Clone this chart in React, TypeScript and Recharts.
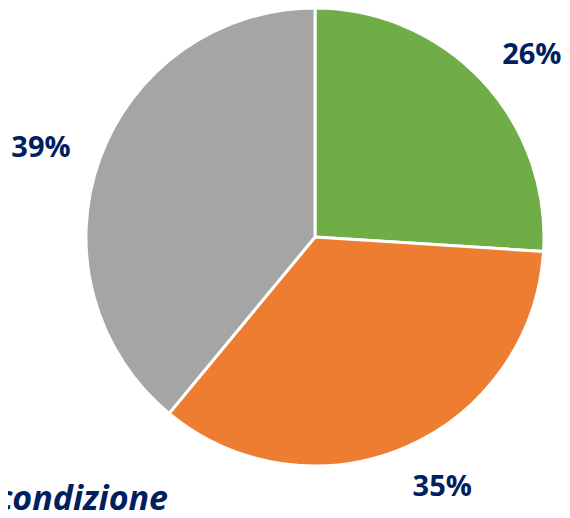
import { PieChart, Pie, Cell } from "recharts";

const categories = ["A", "B", "C"];
const values = [26, 35, 39];
const labels = ["26%", "35%", "39%"];
const COLORS = ["#70AD47", "#ED7D31", "#A5A5A5"];

const data = categories.map((name, i) => ({ name, value: values[i], label: labels[i] }));

const RADIAN = Math.PI / 180;

const renderLabel = (props: any) => {
  const { cx, cy, midAngle, outerRadius, index } = props;
  const r = outerRadius + 41;
  const cos = Math.cos(-midAngle * RADIAN);
  const x = cx + r * cos + (cos >= 0 ? 20 : -20);
  const y = cy + r * Math.sin(-midAngle * RADIAN);
  return (
    <text
      x={x}
      y={y}
      fill="#002060"
      textAnchor="middle"
      dominantBaseline="central"
      fontFamily="'Open Sans', sans-serif"
      fontWeight={700}
      fontSize={29}
    >
      {data[index].label}
    </text>
  );
};

export default function App() {
  return (
    <div style={{ margin: -8, width: 570, height: 518, background: "#fff" }}>
      <PieChart width={570} height={518}>
        <Pie
          data={data}
          dataKey="value"
          cx={310}
          cy={232}
          outerRadius={229}
          startAngle={90}
          endAngle={-270}
          stroke="#fff"
          strokeWidth={3}
          label={renderLabel}
          labelLine={false}
          isAnimationActive={false}
        >
          {data.map((entry, index) => (
            <Cell key={`cell-${index}`} fill={COLORS[index % COLORS.length]} />
          ))}
        </Pie>
        <text
          x={168}
          y={510}
          textAnchor="end"
          fill="#002060"
          fontFamily="'Open Sans', sans-serif"
          fontWeight={700}
          fontStyle="italic"
          fontSize={34}
        >
          condizione
        </text>
      </PieChart>
    </div>
  );
}
